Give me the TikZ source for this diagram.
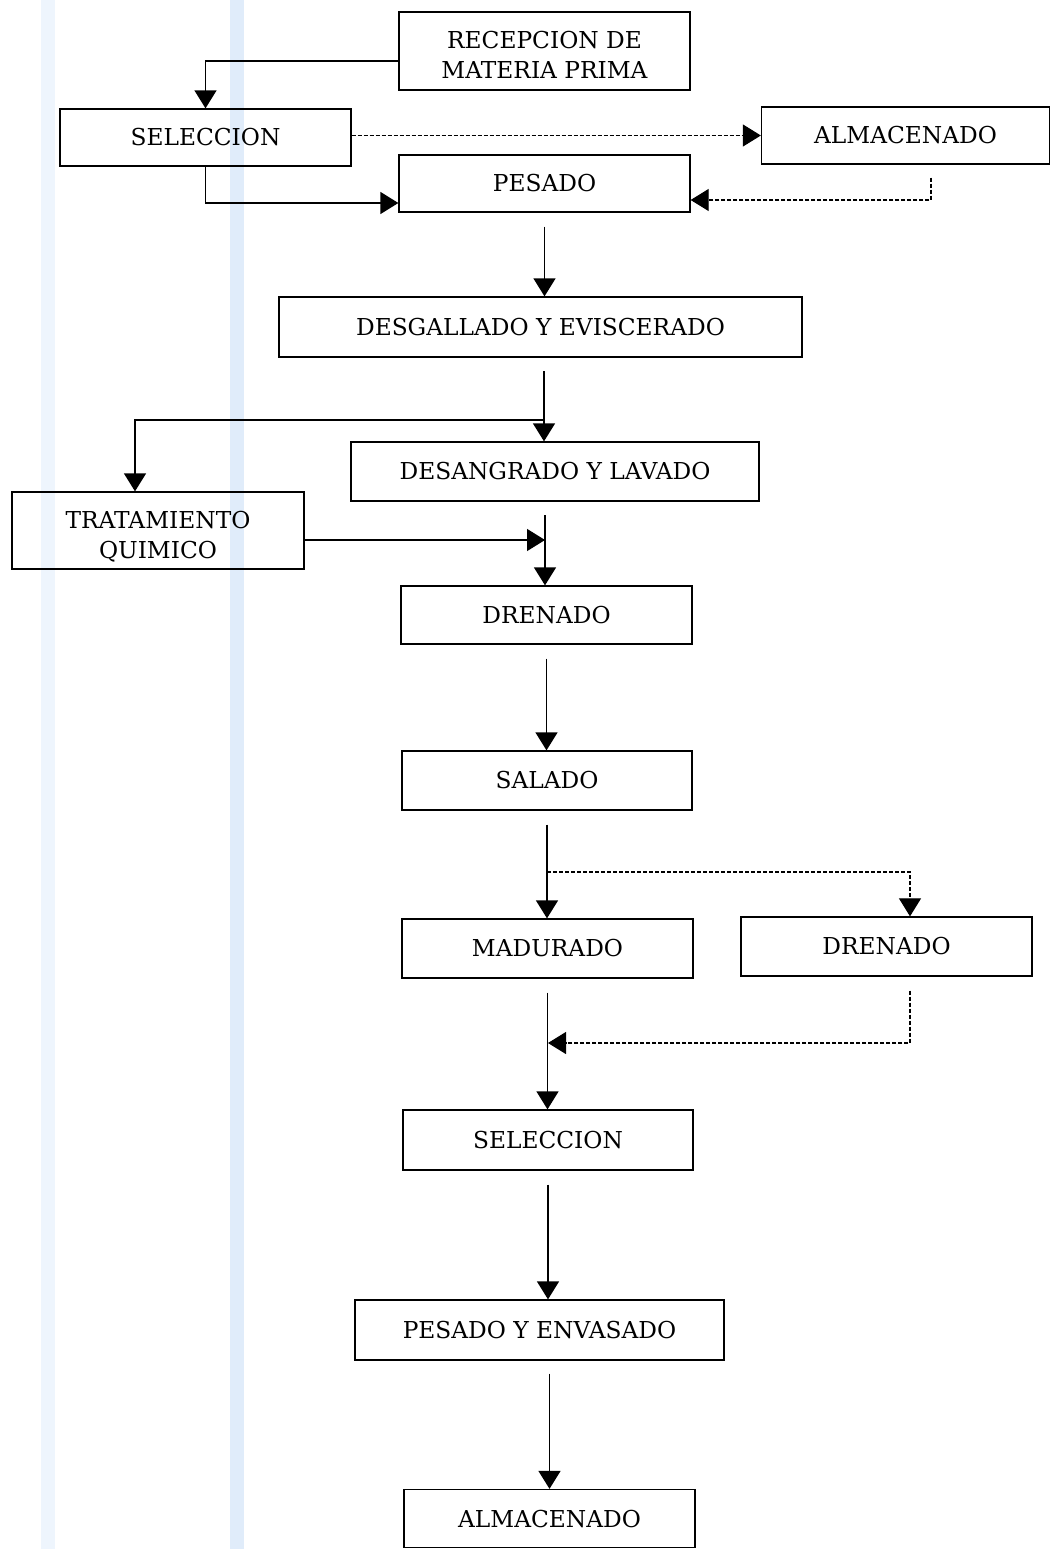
\documentclass[tikz,border=0pt]{standalone}
\usepackage{fontspec}
\setmainfont{DejaVu Serif}
\usetikzlibrary{arrows.meta}
\definecolor{bandA}{RGB}{238,245,253}
\definecolor{bandB}{RGB}{224,236,250}
\begin{document}
\begin{tikzpicture}[x=1pt,y=-1pt,
  box/.style={draw, line width=1.3pt, inner sep=0pt, font=\fontsize{23.3}{30}\selectfont, align=center},
  twoline/.style={text depth=0pt, text height=55pt},
  flow/.style={line width=1.4pt, -{Triangle[width=22pt,length=18pt]}},
  dflow/.style={line width=1.1pt, dash pattern=on 4pt off 2pt, -{Triangle[width=22pt,length=18pt]}}]
\useasboundingbox (0,0) rectangle (1051,1549);
\fill[white] (0,0) rectangle (1051,1549);
\fill[bandA] (41,0) rectangle (55,1549);
\fill[bandB] (230,0) rectangle (244,1549);

\node[box, twoline, minimum width=291pt, minimum height=78pt] (rec) at (544.5,51) {RECEPCION DE\\MATERIA PRIMA};
\node[box, minimum width=291pt, minimum height=57pt] (sel1) at (205.5,137.5) {SELECCION};
\node[box, minimum width=288pt, minimum height=57pt] (alm1) at (905.5,135.5) {ALMACENADO};
\node[box, minimum width=291pt, minimum height=57pt] (pes1) at (544.5,183.5) {PESADO};
\node[box, minimum width=523pt, minimum height=60pt] (des) at (540.5,327) {DESGALLADO Y EVISCERADO};
\node[box, minimum width=408pt, minimum height=59pt] (lav) at (555,471.5) {DESANGRADO Y LAVADO};
\node[box, twoline, minimum width=292pt, minimum height=77pt] (trat) at (158,530.5) {TRATAMIENTO\\QUIMICO};
\node[box, minimum width=291pt, minimum height=58pt] (dren1) at (546.5,615) {DRENADO};
\node[box, minimum width=290pt, minimum height=59pt] (sal) at (547,780.5) {SALADO};
\node[box, minimum width=291pt, minimum height=59pt] (mad) at (547.5,948.5) {MADURADO};
\node[box, minimum width=291pt, minimum height=59pt] (dren2) at (886.5,946.5) {DRENADO};
\node[box, minimum width=290pt, minimum height=60pt] (sel2) at (548,1140) {SELECCION};
\node[box, minimum width=369pt, minimum height=60pt] (env) at (539.5,1330) {PESADO Y ENVASADO};
\node[box, minimum width=291pt, minimum height=58pt] (alm2) at (549.5,1518.5) {ALMACENADO};

% top section
\draw[flow] ([yshift=-10pt]rec.west) -| (sel1.north);
\draw[flow] (sel1.south) |- ([yshift=-19.5pt]pes1.west);
\draw[dflow] ([yshift=2pt]sel1.east) -- ([yshift=2pt]sel1.east -| alm1.west);
\coordinate (a1) at ([xshift=25.5pt,yshift=-13pt]alm1.south);
\draw[dflow] (a1) |- ([yshift=-16.5pt]pes1.east);

\draw[flow] ([yshift=-14pt]pes1.south) -- (pes1.south |- des.north);

\coordinate (d1) at (544,371);
\coordinate (b1) at (544,420);
\draw[flow] (d1) -- (d1 |- lav.north);
\draw[flow] (b1) -| ([xshift=-23pt]trat.north);

\coordinate (l1) at (545,515);
\draw[flow] (l1) -- (l1 |- dren1.north);
\draw[flow] ([yshift=-9.5pt]trat.east) -- ([yshift=-9.5pt]trat.east -| l1);

\draw[flow] ([yshift=-14pt]dren1.south) -- (dren1.south |- sal.north);

\draw[flow] ([yshift=-14pt]sal.south) -- (sal.south |- mad.north);
\coordinate (s1) at (547,872);
\draw[dflow] (s1) -| ([xshift=23.5pt]dren2.north);

\draw[flow] ([yshift=-14pt]mad.south) -- (mad.south |- sel2.north);
\coordinate (r2) at ([xshift=23.5pt,yshift=-14pt]dren2.south);
\coordinate (m1) at (548,1043);
\draw[dflow] (r2) |- (m1);

\draw[flow] ([yshift=-14pt]sel2.south) -- (sel2.south |- env.north);
\draw[flow] ([yshift=-13pt]env.south -| alm2.north) -- (alm2.north);
\end{tikzpicture}
\end{document}
